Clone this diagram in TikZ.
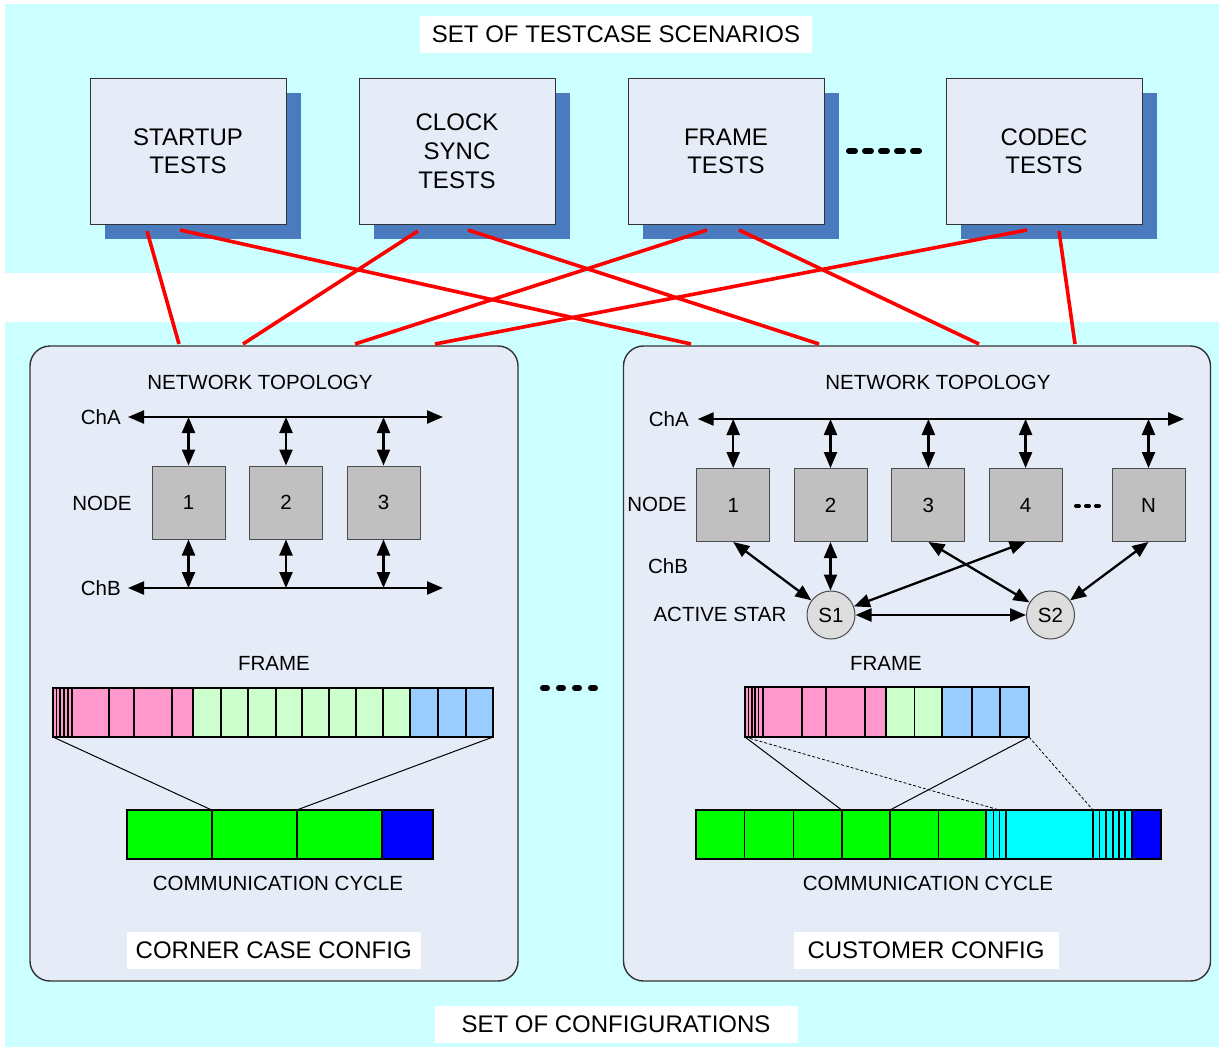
\documentclass[tikz,border=0pt]{standalone}
\usepackage{fontspec}
\setmainfont{Liberation Sans}
\usetikzlibrary{arrows.meta}
\definecolor{bandcyan}{HTML}{CCFFFF}
\definecolor{panelfill}{HTML}{E6ECF7}
\definecolor{shadowblue}{HTML}{4A7BBF}
\definecolor{nodegray}{HTML}{C0C0C0}
\definecolor{stargray}{HTML}{DDDDDD}
\definecolor{hdrpink}{HTML}{FF99CC}
\definecolor{paygreen}{HTML}{CCFFCC}
\definecolor{trlblue}{HTML}{99CCFF}
\definecolor{slotgreen}{HTML}{00FF00}
\definecolor{nitblue}{HTML}{0000FF}
\definecolor{dyncyan}{HTML}{00FFFF}

\begin{document}
\begin{tikzpicture}[x=1pt,y=-1pt,
  big/.style={font=\fontsize{24}{28}\selectfont},
  small/.style={font=\fontsize{20.5}{24}\selectfont},
  lbl/.style={inner sep=0pt, small},
  tag/.style={fill=white, inner sep=0pt, big, minimum height=37pt},
  testbox/.style={draw=black!80, line width=1pt, fill=panelfill, minimum width=196pt,
    minimum height=146pt, inner sep=0pt, align=center, big},
  shade/.style={fill=shadowblue, minimum width=196pt, minimum height=146pt, inner sep=0pt},
  panel/.style={draw=black!80, line width=1.4pt, fill=panelfill, rounded corners=20pt, inner sep=0pt},
  ecu/.style={draw=black!70, line width=1pt, fill=nodegray, minimum size=73pt, inner sep=0pt, small},
  star/.style={circle, draw=black!70, line width=1pt, fill=stargray, minimum size=48pt, inner sep=0pt, small},
  bus/.style={line width=2.3pt, {Triangle[length=16pt,width=13pt]}-{Triangle[length=16pt,width=13pt]}},
  link/.style={red, line width=3.6pt},
  seg/.style={draw=black, line width=1.6pt},
  zoomline/.style={black, line width=1pt},
  zoomdash/.style={black, line width=0.8pt, dash pattern=on 3pt off 2pt},
  dotline/.style={line width=6pt, line cap=round, dash pattern=on 6pt off 10pt},
]
\useasboundingbox (0,0) rectangle (1219,1047);
\fill[white] (0,0) rectangle (1219,1047);

% background bands
\fill[bandcyan] (5,4) rectangle (1219,273);
\fill[bandcyan] (5,322) rectangle (1219,1047);

% ---------- test case scenarios ----------
\node[tag, minimum width=392pt] (tcs) at (616,34.5) {SET OF TESTCASE SCENARIOS};

\foreach \n/\x in {1/188,2/457,3/726,4/1044}
  \node[shade] (sh\n) at (\x+15,166) {};
\node[testbox] (t1) at (188,151) {STARTUP\\TESTS};
\node[testbox, font=\fontsize{24}{29}\selectfont] (t2) at (457,151) {CLOCK\\SYNC\\TESTS};
\node[testbox] (t3) at (726,151) {FRAME\\TESTS};
\node[testbox] (t4) at (1044,151) {CODEC\\TESTS};

\coordinate (d1) at (849,151);
\coordinate (d2) at (919,151);
\draw[dotline] (d1) -- (d2);

% ---------- configuration panels ----------
\node[panel, minimum width=488pt, minimum height=635pt] (leftcfg) at (274,663.5) {};
\node[panel, minimum width=587pt, minimum height=635pt] (rightcfg) at (917,663.5) {};

% links between test cases and configurations
\coordinate (a1) at (147,231);  \coordinate (a2) at (180,230);
\coordinate (b1) at (418,231);  \coordinate (b2) at (468,230);
\coordinate (c1) at (707,230);  \coordinate (c2) at (739,230);
\coordinate (e1) at (1027,230); \coordinate (e2) at (1059,231);
\coordinate (pl1) at (179,344); \coordinate (pl2) at (243,344);
\coordinate (pl3) at (355,344); \coordinate (pl4) at (435,344);
\coordinate (pr1) at (691,344); \coordinate (pr2) at (819,344);
\coordinate (pr3) at (979,344); \coordinate (pr4) at (1075,344);
\draw[link] (a1) -- (pl1);
\draw[link] (a2) -- (pr1);
\draw[link] (b1) -- (pl2);
\draw[link] (b2) -- (pr2);
\draw[link] (c1) -- (pl3);
\draw[link] (c2) -- (pr3);
\draw[link] (e1) -- (pl4);
\draw[link] (e2) -- (pr4);

\node[tag, minimum width=294.5pt] (ccc) at (273.75,950.5) {CORNER CASE CONFIG};
\node[tag, minimum width=265pt] (cuc) at (926,950.5) {CUSTOMER CONFIG};
\node[tag, minimum width=363pt] (soc) at (616,1024.5) {SET OF CONFIGURATIONS};

\coordinate (m1) at (543,688);
\coordinate (m2) at (595,688);
\draw[dotline, dash pattern=on 4pt off 12pt] (m1) -- (m2);

% ---------- left panel: bus topology ----------
\node[lbl] (ntL) at (260,382) {NETWORK TOPOLOGY};
\node[lbl, anchor=east] (chaL) at (121,417) {ChA};
\node[lbl, anchor=east] (chbL) at (121,588) {ChB};
\node[lbl] (ndL) at (102,503) {NODE};
\foreach \n/\x in {1/188.5,2/286,3/383.5}
  \node[ecu] (lx\n) at (\x,502.5) {\n};
\coordinate (laA) at (128,417); \coordinate (lbA) at (443,417);
\coordinate (laB) at (128,588); \coordinate (lbB) at (443,588);
\draw[bus] (laA) -- (lbA);
\draw[bus] (laB) -- (lbB);
\foreach \n in {1,2,3} {
  \draw[bus] (lx\n |- laA) -- (lx\n.north);
  \draw[bus] (lx\n.south) -- (lx\n |- laB);
}

% left panel: frame and cycle
\node[lbl] (frL) at (274,663) {FRAME};
\foreach \a/\b in {53/56.5,56.5/60,60/64,64/68,68/72,72/109,109/134,134/172,172/193}
  \draw[seg, fill=hdrpink] (\a,688) rectangle (\b,737);
\foreach \a/\b in {193/221,221/248,248/276,276/302,302/329,329/356,356/383,383/410}
  \draw[seg, fill=paygreen] (\a,688) rectangle (\b,737);
\foreach \a/\b in {410/438,438/466,466/493}
  \draw[seg, fill=trlblue] (\a,688) rectangle (\b,737);
\foreach \a/\b in {126.7/211.7,211.7/296.7,296.7/381.7}
  \draw[seg, fill=slotgreen] (\a,810) rectangle (\b,859);
\draw[seg, fill=nitblue] (381.7,810) rectangle (432.7,859);
\coordinate (fl0) at (53,737);    \coordinate (fl1) at (493,737);
\coordinate (cl0) at (211.7,810); \coordinate (cl1) at (296.7,810);
\draw[zoomline] (fl0) -- (cl0);
\draw[zoomline] (fl1) -- (cl1);
\node[lbl] (ccL) at (278,883) {COMMUNICATION CYCLE};

% ---------- right panel: star topology ----------
\node[lbl] (ntR) at (938,382) {NETWORK TOPOLOGY};
\node[lbl, anchor=east] (chaR) at (689,419) {ChA};
\node[lbl] (ndR) at (657,504) {NODE};
\node[lbl] (chbR) at (668,566) {ChB};
\node[lbl] (asR) at (720,614) {ACTIVE STAR};
\foreach \n/\x/\t in {1/733.2/1,2/830.5/2,3/928.4/3,4/1025.6/4,5/1148.5/N}
  \node[ecu] (rx\n) at (\x,505) {\t};
\coordinate (raA) at (697.7,419); \coordinate (rbA) at (1184,419);
\draw[bus] (raA) -- (rbA);
\foreach \n in {1,...,5}
  \draw[bus] (rx\n |- raA) -- (rx\n.north);
\coordinate (q1) at (1076,506);
\coordinate (q2) at (1099,506);
\draw[line width=4pt, line cap=round, dash pattern=on 3pt off 7pt] (q1) -- (q2);

\node[star] (s1) at (831,615) {S1};
\node[star] (s2) at (1050.5,615) {S2};
\draw[bus] (rx1.south) -- (s1);
\draw[bus] (rx2.south) -- (rx2.south |- s1.north);
\draw[bus] (rx4.south) -- (s1);
\draw[bus] (rx3.south) -- (s2);
\draw[bus] (rx5.south) -- (s2);
\draw[bus] (s1) -- (s2);

% right panel: frame and cycle
\node[lbl] (frR) at (886,663) {FRAME};
\foreach \a/\b in {745/748.3,748.3/751.7,751.7/755,755/758.3,758.3/762.7,762.7/801.7,801.7/826,826/865,865/886}
  \draw[seg, fill=hdrpink] (\a,687) rectangle (\b,737);
\foreach \a/\b in {886/914.3,914.3/941.7}
  \draw[seg, fill=paygreen] (\a,687) rectangle (\b,737);
\foreach \a/\b in {941.7/971.7,971.7/1000,1000/1029}
  \draw[seg, fill=trlblue] (\a,687) rectangle (\b,737);
\foreach \a/\b in {696/744.3,744.3/793.3,793.3/841.7,841.7/890,890/938.3,938.3/986}
  \draw[seg, fill=slotgreen] (\a,810) rectangle (\b,859);
\foreach \a/\b in {986/993.3,993.3/999.3,999.3/1006,1006/1092.7,1092.7/1099.3,1099.3/1106,1106/1112.7,1112.7/1118.7,1118.7/1125,1125/1131.7}
  \draw[seg, fill=dyncyan] (\a,810) rectangle (\b,859);
\draw[seg, fill=nitblue] (1131.7,810) rectangle (1160.7,859);
\coordinate (fr0) at (745,737);   \coordinate (fr1) at (1029,737);
\coordinate (cr0) at (841.7,810); \coordinate (cr1) at (890,810);
\coordinate (cr2) at (999.3,810); \coordinate (cr3) at (1093,810);
\draw[zoomline] (fr0) -- (cr0);
\draw[zoomline] (fr1) -- (cr1);
\draw[zoomdash] (fr0) -- (cr2);
\draw[zoomdash] (fr1) -- (cr3);
\node[lbl] (ccR) at (928,883) {COMMUNICATION CYCLE};
\end{tikzpicture}
\end{document}
